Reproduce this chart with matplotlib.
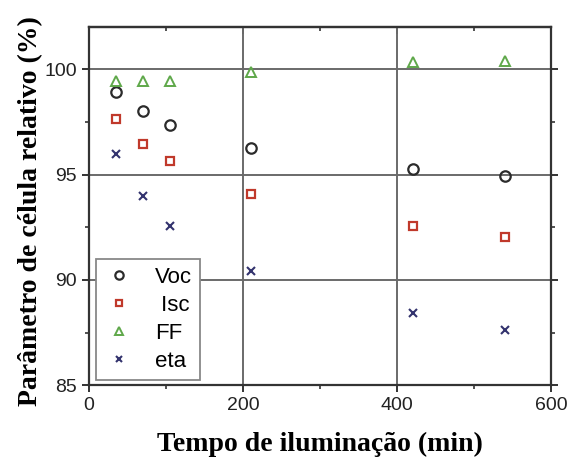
import numpy as np
import matplotlib.pyplot as plt
from matplotlib.ticker import MultipleLocator

# tempo de iluminação (min) e parâmetros relativos (%)
tempo = [35, 70, 105, 210, 420, 540]
voc = [98.93, 98.00, 97.35, 96.26, 95.28, 94.94]
isc = [97.63, 96.47, 95.63, 94.07, 92.56, 92.02]
ff = [99.43, 99.43, 99.43, 99.87, 100.33, 100.40]
eta = [95.98, 93.99, 92.57, 90.44, 88.42, 87.64]

fig = plt.figure(figsize=(5.7, 4.68), dpi=100)
ax = fig.add_axes([0.156, 0.177, 0.811, 0.765])

ax.plot(tempo, voc, 'o', mfc='none', mec='#2b2b2b', mew=1.6, ms=7.5, label='Voc')
ax.plot(tempo, isc, 's', mfc='none', mec='#c0392b', mew=1.6, ms=6, label=' Isc')
ax.plot(tempo, ff, '^', mfc='none', mec='#5fa84a', mew=1.4, ms=7.5, label='FF')
ax.plot(tempo, eta, 'x', color='#33336e', mew=1.5, ms=6, label='eta')

ax.set_xlim(0, 600)
ax.set_ylim(85, 102)
ax.xaxis.set_major_locator(MultipleLocator(200))
ax.xaxis.set_minor_locator(MultipleLocator(100))
ax.yaxis.set_major_locator(MultipleLocator(5))
ax.yaxis.set_minor_locator(MultipleLocator(2.5))
ax.grid(True, which='major', color='#6a6a6a', lw=1.4)
ax.set_axisbelow(True)

for s in ax.spines.values():
    s.set_linewidth(1.6)
    s.set_color('#333333')
ax.tick_params(which='major', direction='out', length=5, width=1.4,
               labelsize=14, right=True, colors='#333333',
               labelcolor='#222222')
ax.tick_params(which='minor', direction='out', length=3, width=1.2,
               right=True, colors='#333333')
for lab in ax.get_xticklabels() + ax.get_yticklabels():
    lab.set_family('Liberation Sans')

# marcas do eixo superior voltadas para dentro
top = ax.secondary_xaxis('top')
top.xaxis.set_major_locator(MultipleLocator(200))
top.xaxis.set_minor_locator(MultipleLocator(100))
top.tick_params(which='major', direction='in', length=5, width=1.4,
                labeltop=False, colors='#333333')
top.tick_params(which='minor', direction='in', length=3, width=1.2,
                colors='#333333')
top.spines['top'].set_linewidth(1.6)
top.spines['top'].set_color('#333333')

ax.set_xlabel('Tempo de iluminação (min)', family='Liberation Serif',
              fontweight='bold', fontsize=20)
ax.xaxis.set_label_coords(0.5, -0.13, transform=ax.transAxes)
ax.xaxis.label.set_va('top')
ax.set_ylabel('Parâmetro de célula relativo (%)', family='Liberation Serif',
              fontweight='bold', fontsize=20)
ax.yaxis.set_label_coords(-0.10, 0.485, transform=ax.transAxes)

leg = ax.legend(loc='lower left', bbox_to_anchor=(0.006, 0.002),
                prop={'family': 'Liberation Sans', 'size': 16},
                fancybox=False, edgecolor='#888888', framealpha=1,
                borderpad=0.35, labelspacing=0.32, handlelength=1.4,
                handletextpad=0.9, markerscale=0.8, borderaxespad=0.2)
leg.get_frame().set_linewidth(1.3)

fig.savefig('out.png', dpi=100)
